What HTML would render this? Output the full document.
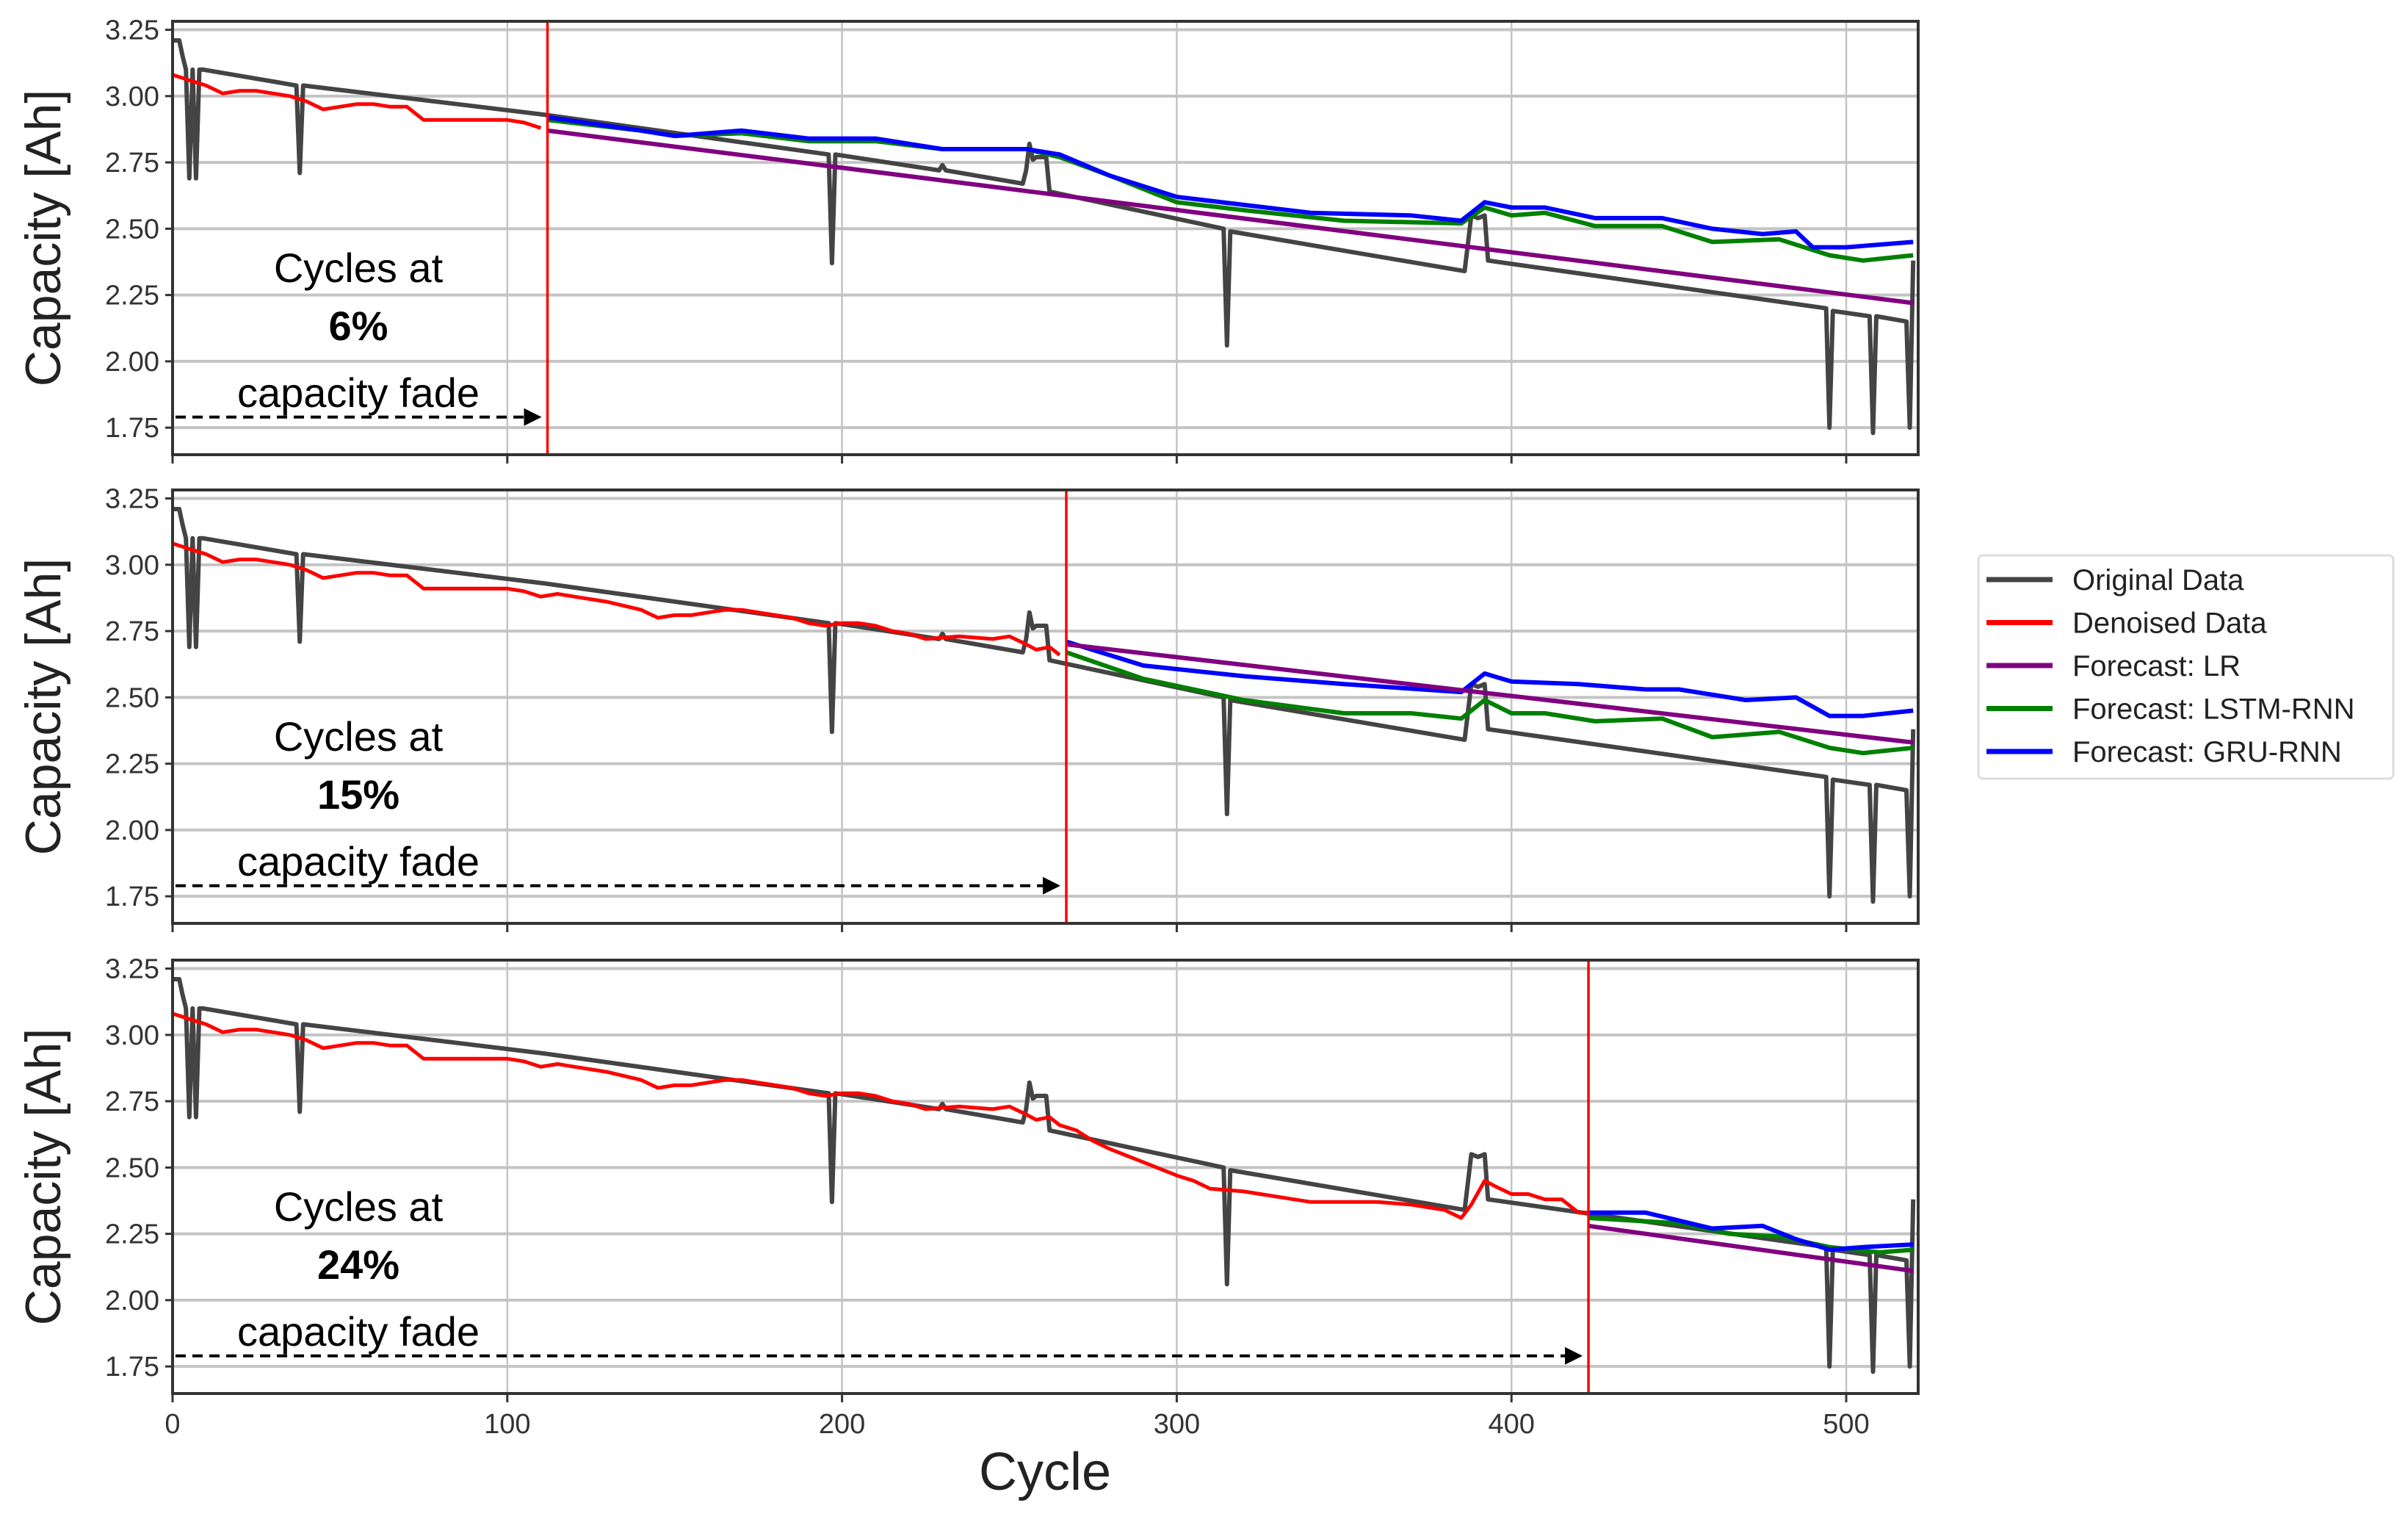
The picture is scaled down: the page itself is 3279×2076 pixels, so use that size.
<!DOCTYPE html>
<html><head><meta charset="utf-8"><style>
html,body{margin:0;padding:0;background:#fff;}
svg{display:block;}
text{font-family:"Liberation Sans Narrow","Liberation Sans",sans-serif;}
</style></head><body>
<svg id="chart" width="3279" height="2076" viewBox="0 0 3279 2076" xmlns="http://www.w3.org/2000/svg"></svg>
<script>
const origCycles=[0,2,3,4,5,6,7,8,9,37,38,39,111,196,197,198,229,230,231,254,255,256,257,258,261,262,314,315,316,386,388,390,392,393,494,495,496,507,508,509,518,519,520];
const origCap=[3.21,3.21,3.15,3.10,2.69,3.10,2.69,3.10,3.10,3.04,2.71,3.04,2.93,2.78,2.37,2.78,2.72,2.74,2.72,2.67,2.72,2.82,2.76,2.77,2.77,2.64,2.50,2.06,2.49,2.34,2.55,2.54,2.55,2.38,2.20,1.75,2.19,2.17,1.73,2.17,2.15,1.75,2.38];
const denCycles=[0,5,10,15,20,25,30,35,40,45,50,55,60,65,70,75,80,90,100,105,110,115,120,130,140,145,150,155,165,170,180,185,190,195,200,205,210,215,220,225,235,245,250,255,258,262,265,270,275,280,290,300,305,310,320,325,335,340,350,360,370,375,380,385,388,392,395,400,405,410,415,420,423];
const denCap=[3.08,3.06,3.04,3.01,3.02,3.02,3.01,3.00,2.98,2.95,2.96,2.97,2.97,2.96,2.96,2.91,2.91,2.91,2.91,2.90,2.88,2.89,2.88,2.86,2.83,2.80,2.81,2.81,2.83,2.83,2.81,2.80,2.78,2.77,2.78,2.78,2.77,2.75,2.74,2.72,2.73,2.72,2.73,2.70,2.68,2.69,2.66,2.64,2.60,2.57,2.52,2.47,2.45,2.42,2.41,2.40,2.38,2.37,2.37,2.37,2.36,2.35,2.34,2.31,2.36,2.45,2.43,2.40,2.40,2.38,2.38,2.33,2.33];
const cutCycles=[112,267,423];
const fadeLabels=["6%","15%","24%"];
const lrStart=[2.87,2.70,2.28];
const lrEnd=[2.22,2.33,2.11];
const gruCycles1=[112,140,150,170,190,210,230,255,265,280,300,320,340,370,385,392,400,410,425,445,460,475,485,490,500,510,520];
const gruCap1=[2.92,2.87,2.85,2.87,2.84,2.84,2.80,2.80,2.78,2.70,2.62,2.59,2.56,2.55,2.53,2.60,2.58,2.58,2.54,2.54,2.50,2.48,2.49,2.43,2.43,2.44,2.45];
const lstmCycles1=[112,140,150,170,190,210,230,255,265,280,300,320,350,385,392,400,410,425,445,460,480,495,505,520];
const lstmCap1=[2.91,2.87,2.85,2.86,2.83,2.83,2.80,2.80,2.77,2.70,2.60,2.57,2.53,2.52,2.58,2.55,2.56,2.51,2.51,2.45,2.46,2.40,2.38,2.40];
const gruCycles2=[267,290,320,350,385,392,400,420,440,450,470,485,495,505,520];
const gruCap2=[2.71,2.62,2.58,2.55,2.52,2.59,2.56,2.55,2.53,2.53,2.49,2.50,2.43,2.43,2.45];
const lstmCycles2=[267,290,320,350,370,385,392,400,410,425,445,460,480,495,505,520];
const lstmCap2=[2.67,2.57,2.49,2.44,2.44,2.42,2.49,2.44,2.44,2.41,2.42,2.35,2.37,2.31,2.29,2.31];
const gruCycles3=[423,440,460,475,485,495,505,520];
const gruCap3=[2.33,2.33,2.27,2.28,2.23,2.19,2.20,2.21];
const lstmCycles3=[423,450,465,480,495,510,520];
const lstmCap3=[2.31,2.29,2.25,2.24,2.20,2.18,2.19];
const yTicks=[1.75,2.00,2.25,2.50,2.75,3.00,3.25];
const xTicks=[0,100,200,300,400,500];
const legendLabels=["Original Data","Denoised Data","Forecast: LR","Forecast: LSTM-RNN","Forecast: GRU-RNN"];

const NS="http://www.w3.org/2000/svg";
const svg=document.getElementById('chart');
const X0=235,X1=2612,XMIN=0,XMAX=521.5;
const PH=590,YMIN=1.648,YMAX=3.282;
const panelTops=[29,667,1307];
function sx(c){return X0+(c-XMIN)/(XMAX-XMIN)*(X1-X0);}
function syF(top){return v=>top+PH-(v-YMIN)/(YMAX-YMIN)*PH;}
function mk(tag,attrs,parent){const e=document.createElementNS(NS,tag);for(const k in attrs)e.setAttribute(k,attrs[k]);(parent||svg).appendChild(e);return e;}
function pathFrom(cs,vs,sy,maxC){let d="";for(let i=0;i<cs.length;i++){if(maxC!==undefined&&cs[i]>maxC)break;d+=(d?"L":"M")+sx(cs[i]).toFixed(1)+","+sy(vs[i]).toFixed(1);}return d;}

mk('defs',{}).innerHTML='<clipPath id="clip"><rect x="'+X0+'" y="0" width="'+(X1-X0)+'" height="2076"/></clipPath><marker id="arr" markerWidth="6" markerHeight="6" refX="5" refY="3" orient="auto"><path d="M0,0L6,3L0,6z" fill="#000"/></marker>';

panelTops.forEach((top,p)=>{
  const sy=syF(top);
  const g=mk('g',{});
  
  
  xTicks.forEach(t=>{const l=mk('line',{x1:sx(t),x2:sx(t),y1:top,y2:top+PH,stroke:'#c4c4c4','stroke-width':2.5},g);
    const tk=mk('line',{x1:sx(t),x2:sx(t),y1:top+PH,y2:top+PH+12,stroke:'#333','stroke-width':3},g);});
  yTicks.forEach(t=>{const l=mk('line',{x1:X0,x2:X1,y1:sy(t),y2:sy(t),stroke:'#c4c4c4','stroke-width':4},g);
    const tk=mk('line',{x1:X0-10,x2:X0,y1:sy(t),y2:sy(t),stroke:'#333','stroke-width':3},g);
    const tx=mk('text',{x:X0-18,y:sy(t)+13,'text-anchor':'end','font-size':38,fill:'#333'},g);tx.textContent=t.toFixed(2);});
  const cl=mk('g',{'clip-path':'url(#clip)'},g);
  const o=mk('path',{d:pathFrom(origCycles,origCap,sy),fill:'none',stroke:'#444','stroke-width':6,'stroke-linejoin':'round'},cl);
  
  const r=mk('path',{d:pathFrom(denCycles,denCap,sy,cutCycles[p]),fill:'none',stroke:'#f00','stroke-width':5,'stroke-linejoin':'round'},cl);
  
  const gc=[gruCycles1,gruCycles2,gruCycles3][p],gv=[gruCap1,gruCap2,gruCap3][p];
  const lc=[lstmCycles1,lstmCycles2,lstmCycles3][p],lv=[lstmCap1,lstmCap2,lstmCap3][p];
  const ls=mk('path',{d:pathFrom(lc,lv,sy),fill:'none',stroke:'#008000','stroke-width':6,'stroke-linejoin':'round'},cl);
  
  const gr=mk('path',{d:pathFrom(gc,gv,sy),fill:'none',stroke:'#00f','stroke-width':6,'stroke-linejoin':'round'},cl);
  
  const lr=mk('line',{x1:sx(cutCycles[p]),y1:sy(lrStart[p]),x2:sx(520),y2:sy(lrEnd[p]),stroke:'#800080','stroke-width':6},cl);
  
  const v=mk('line',{x1:sx(cutCycles[p]),x2:sx(cutCycles[p]),y1:top,y2:top+PH,stroke:'#f00','stroke-width':3.5},g);
  
  const a=mk('line',{x1:X0+4,x2:sx(cutCycles[p])-12,y1:sy(1.79),y2:sy(1.79),stroke:'#000','stroke-width':4,'stroke-dasharray':'14,9','marker-end':'url(#arr)'},g);
  
  const ann=[["Cycles at",365-29,'normal'],[fadeLabels[p],444-29,'bold'],["capacity fade",535-29,'normal']];
  ann.forEach(([s,dy,w])=>{const t=mk('text',{x:488,y:top+dy+19,'text-anchor':'middle','font-size':56,'font-weight':w,fill:'#000'},g);t.textContent=s;});
  const f=mk('rect',{x:X0,y:top,width:X1-X0,height:PH,fill:'none',stroke:'#333','stroke-width':4},g);
  
  const yl=mk('text',{x:0,y:0,transform:'translate(82,'+(top+PH/2)+') rotate(-90)','text-anchor':'middle','font-size':68,fill:'#222'},g);
  yl.textContent='Capacity [Ah]';
});
xTicks.forEach(t=>{const tx=mk('text',{x:sx(t),y:1951,'text-anchor':'middle','font-size':38,fill:'#333'});tx.textContent=t;});
const xl=mk('text',{x:1423,y:2028,'text-anchor':'middle','font-size':72,fill:'#222'});
xl.textContent='Cycle';
const lg=mk('g',{});
mk('rect',{x:2694,y:756,width:565,height:304,rx:6,fill:'#fff',stroke:'#ddd','stroke-width':3},lg);
const legColors=['#444','#f00','#800080','#008000','#00f'];
legendLabels.forEach((s,i)=>{const y=789+i*58.5;
  const l=mk('line',{x1:2705,x2:2795,y1:y,y2:y,stroke:legColors[i],'stroke-width':7},lg);
  const t=mk('text',{x:2822,y:y+14,'font-size':40,fill:'#222'},lg);t.textContent=s;});
</script>
</body></html>
